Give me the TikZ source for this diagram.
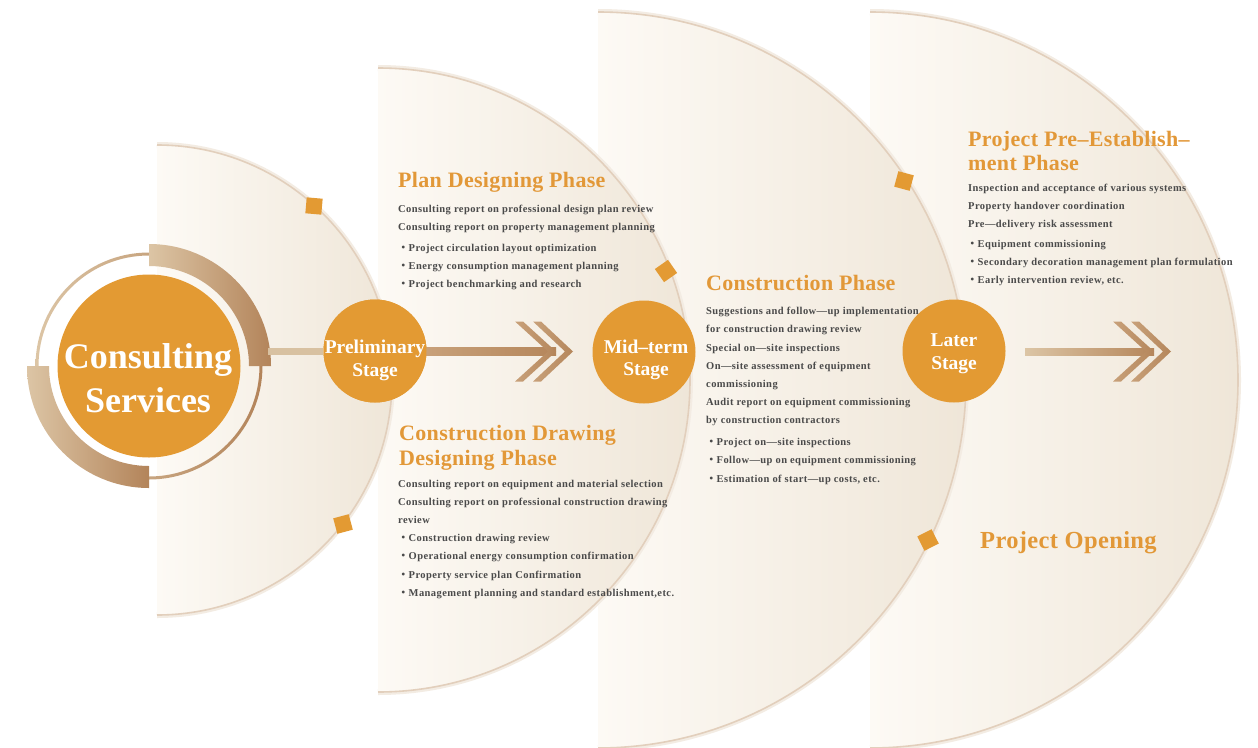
\documentclass[tikz,border=0pt]{standalone}
\usepackage{fontspec}
\setmainfont{Liberation Serif}
\newfontfamily\cjk{Noto Sans CJK JP}
\usetikzlibrary{calc}
\definecolor{orng}{HTML}{E39A33}
\definecolor{hdrc}{HTML}{E29838}
\definecolor{bodyc}{HTML}{4A4A4A}
\definecolor{shpL}{HTML}{FDFAF5}
\definecolor{shpR}{HTML}{EFE6D8}
\definecolor{arcc}{HTML}{E2CFBC}
\definecolor{arcsh}{HTML}{F3ECE3}
\definecolor{tanL}{HTML}{DCC5A5}
\definecolor{tanD}{HTML}{B3845A}
\definecolor{linkc}{HTML}{D8C1A1}
\definecolor{chevL}{HTML}{C8A17A}
\definecolor{chevR}{HTML}{B5865B}
\newcommand\bul{{\cjk ・}}
\newcommand\halfdisc[3]{% cx, cy, r
  \draw[line width=6pt, arcsh] (#1,#2-#3) arc[start angle=-90,end angle=90,radius=#3];
  \shade[left color=shpL, right color=shpR] (#1,#2-#3) arc[start angle=-90,end angle=90,radius=#3] -- cycle;
  \draw[line width=1.6pt, arcc] (#1,#2-#3) arc[start angle=-90,end angle=90,radius=#3];
}
\newcommand\chevronpair[2]{% left x, centre y
  \shade[left color=chevL, right color=chevR] (#1,#2-30) -- (#1+8,#2-30) -- (#1+41,#2) -- (#1+8,#2+30) -- (#1,#2+30) -- (#1+33,#2) -- cycle;
  \shade[left color=chevL, right color=chevR] (#1+18,#2-30) -- (#1+26,#2-30) -- (#1+58,#2) -- (#1+26,#2+30) -- (#1+18,#2+30) -- (#1+50,#2) -- cycle;
}
\begin{document}
\begin{tikzpicture}[x=1pt,y=-1pt,
  hdr/.style={anchor=base west, inner sep=0pt, text=hdrc, font=\fontsize{22}{24}\selectfont\bfseries\addfontfeatures{LetterSpace=1.5}},
  bodytxt/.style={anchor=base west, inner sep=0pt, text=bodyc, font=\fontsize{10.5}{12}\selectfont\bfseries\addfontfeatures{LetterSpace=4}},
  stagec/.style={circle, fill=orng, minimum size=103pt, inner sep=0pt},
  stagetxt/.style={anchor=base, inner sep=0pt, text=white, font=\fontsize{19.5}{22}\selectfont\bfseries},
  bigtxt/.style={anchor=base, inner sep=0pt, text=white, font=\fontsize{36}{40}\selectfont\bfseries},
  sq/.style={fill=orng, minimum size=16pt, inner sep=0pt},
  link/.style={line width=7pt, linkc}
]
\fill[white] (0,0) rectangle (1258,747);
\useasboundingbox (0,0) rectangle (1258,747);

% half discs, back to front
\halfdisc{870}{380}{368}
\halfdisc{598}{380}{368}
\halfdisc{378}{380}{312}
\halfdisc{157}{380}{235}

% squares on the arcs
\node[sq, rotate=-5] (s1) at (314,206) {};
\node[sq, rotate=15] (s2) at (343,524) {};
\node[sq, rotate=35] (s3) at (666,271) {};
\node[sq, rotate=-15] (s4) at (904,181) {};
\node[sq, rotate=27] (s5) at (928,540) {};

% consulting services emblem
\coordinate (cc) at (149,366);
\shade[left color=tanL, right color=tanD, even odd rule] (cc) circle (113.5) (cc) circle (110.5);
\shade[left color=tanL, right color=tanD] (149,244) arc[start angle=-90,end angle=0,radius=122] -- (249,366) arc[start angle=0,end angle=-90,radius=100] -- cycle;
\shade[left color=tanL, right color=tanD] (27,366) arc[start angle=180,end angle=90,radius=122] -- (149,466) arc[start angle=90,end angle=180,radius=100] -- cycle;
\node[circle, fill=orng, minimum size=183pt, inner sep=0pt] (cs) at (cc) {};
\node[bigtxt] (cs1) at (148,368) {Consulting};
\node[bigtxt] (cs2) at (148,412) {Services};

% stage circles and links
\coordinate (ringR) at (268,351.5);
\node[stagec] (pre) at (375,351) {};
\node[stagec] (mid) at (644,352) {};
\node[stagec] (later) at (954,351) {};
\draw[link] (ringR) -- (pre.west |- ringR);
\coordinate (a1e) at (556,351.5);
\coordinate (a2s) at (1025,351.5);
\coordinate (a2e) at (1154,351.5);
\shade[left color=chevL, right color=chevR] ($(pre.east)+(-2,-3.5)$) rectangle ($(a1e)+(0,3.5)$);
\shade[left color=tanL, right color=chevR] ($(a2s)+(0,-3.5)$) rectangle ($(a2e)+(0,3.5)$);
\chevronpair{515}{351.5}
\chevronpair{1113}{351.5}
\node[stagec] at (pre) {};

\node[stagetxt] (pre1) at (375,353) {Preliminary};
\node[stagetxt] (pre2) at (375,376) {Stage};
\node[stagetxt] (mid1) at (646,353) {Mid–term};
\node[stagetxt] (mid2) at (646,375) {Stage};
\node[stagetxt] (lat1) at (954,346) {Later};
\node[stagetxt] (lat2) at (954,369) {Stage};

% Plan designing phase
\node[hdr] (h1) at (398,187) {Plan Designing Phase};
\node[bodytxt] at (398,212) {Consulting report on professional design plan review};
\node[bodytxt] at (398,230) {Consulting report on property management planning};
\node[bodytxt] at (398,251) {\bul Project circulation layout optimization};
\node[bodytxt] at (398,269) {\bul Energy consumption management planning};
\node[bodytxt] at (398,287) {\bul Project benchmarking and research};

% Construction drawing designing phase
\node[hdr] (h2) at (399,440) {Construction Drawing};
\node[hdr] (h2b) at (399,465) {Designing Phase};
\node[bodytxt] at (398,487) {Consulting report on equipment and material selection};
\node[bodytxt] at (398,505) {Consulting report on professional construction drawing};
\node[bodytxt] at (398,523) {review};
\node[bodytxt] at (398,541) {\bul Construction drawing review};
\node[bodytxt] at (398,559) {\bul Operational energy consumption confirmation};
\node[bodytxt] at (398,578) {\bul Property service plan Confirmation};
\node[bodytxt] at (398,596) {\bul Management planning and standard establishment,etc.};

% Construction phase
\node[hdr] (h3) at (706,290) {Construction Phase};
\node[bodytxt] at (706,314) {Suggestions and follow—up implementation};
\node[bodytxt] at (706,332) {for construction drawing review};
\node[bodytxt] at (706,351) {Special on—site inspections};
\node[bodytxt] at (706,369) {On—site assessment of equipment};
\node[bodytxt] at (706,387) {commissioning};
\node[bodytxt] at (706,405) {Audit report on equipment commissioning};
\node[bodytxt] at (706,423) {by construction contractors};
\node[bodytxt] at (706,445) {\bul Project on—site inspections};
\node[bodytxt] at (706,463) {\bul Follow—up on equipment commissioning};
\node[bodytxt] at (706,482) {\bul Estimation of start—up costs, etc.};

% Project pre-establishment phase
\node[hdr] (h4) at (968,146) {Project Pre–Establish–};
\node[hdr] (h4b) at (968,170) {ment Phase};
\node[bodytxt] at (968,191) {Inspection and acceptance of various systems};
\node[bodytxt] at (968,209) {Property handover coordination};
\node[bodytxt] at (968,227) {Pre—delivery risk assessment};
\node[bodytxt] at (967,247) {\bul Equipment commissioning};
\node[bodytxt] at (967,265) {\bul Secondary decoration management plan formulation};
\node[bodytxt] at (967,283) {\bul Early intervention review, etc.};

\node[hdr, font=\fontsize{24.5}{26}\selectfont\bfseries\addfontfeatures{LetterSpace=1.5}] (po) at (980,548) {Project Opening};
\end{tikzpicture}
\end{document}
